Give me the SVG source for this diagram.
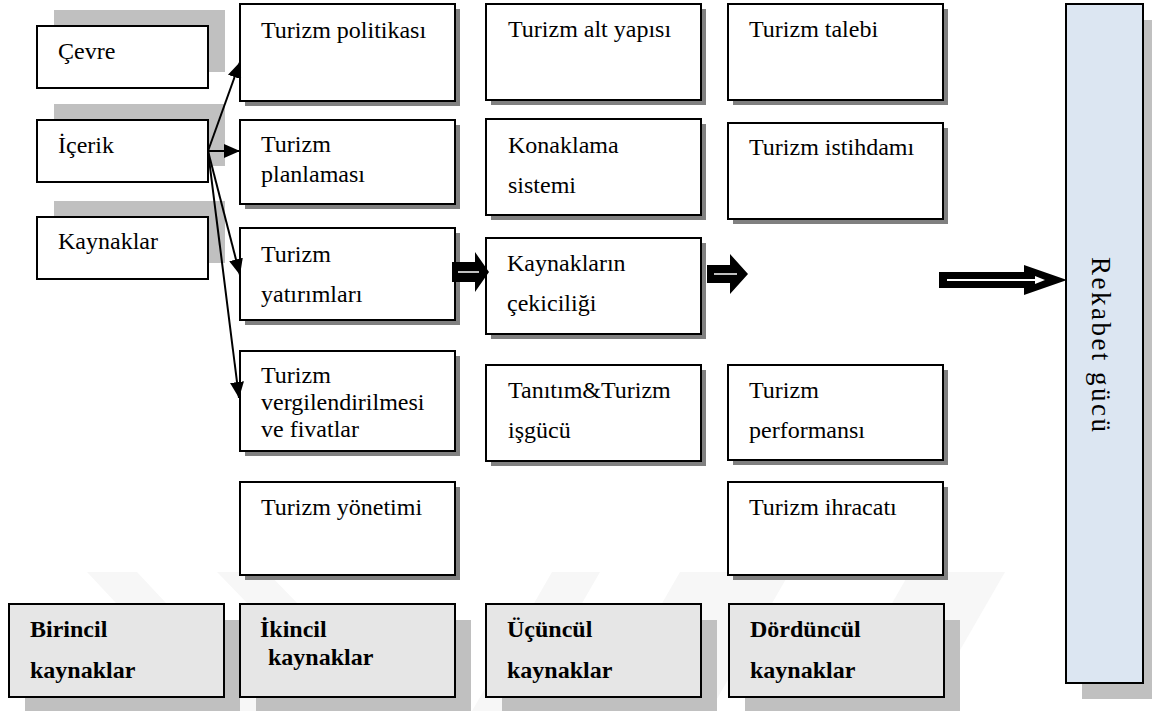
<svg xmlns="http://www.w3.org/2000/svg" width="1152" height="711" viewBox="0 0 1152 711">
<defs>
<style>
.box{fill:#fff;stroke:#000;stroke-width:2}
.gbox{fill:#e6e6e6;stroke:#000;stroke-width:2}
.sh{fill:#808080}
.lsh{fill:#c0c0c0}
.t{font-family:"Liberation Serif","Times New Roman",serif;font-size:24px;fill:#000}
.b{font-weight:bold}
.ln{stroke:#000;stroke-width:2;fill:none}
.wm{fill:#f7f7f7}
</style>
<marker id="ah" markerUnits="userSpaceOnUse" markerWidth="16" markerHeight="14" refX="16" refY="7" orient="auto">
<path d="M0,0 L16,7 L0,14 z" fill="#000"/>
</marker>
</defs>
<rect width="1152" height="711" fill="#fff"/>
<g id="watermark">
<polygon class="wm" points="87,572 137,572 267,711 217,711"/>
<polygon class="wm" points="217,572 267,572 402,711 352,711"/>
<polygon class="wm" points="552,572 600,572 520,711 472,711"/>
<polygon class="wm" points="680,572 790,572 710,711 600,711"/>
<polygon class="wm" points="910,572 1005,572 925,711 830,711"/>
</g>
<g id="n-cevre"><rect class="lsh" x="54" y="10" width="171" height="62"/><rect class="box" x="37" y="26" width="171" height="62"/><text class="t" x="58" y="59">Çevre</text></g>
<g id="n-icerik"><rect class="lsh" x="54" y="104" width="171" height="62"/><rect class="box" x="37" y="120" width="171" height="62"/><text class="t" x="58" y="153">İçerik</text></g>
<g id="n-kaynaklar"><rect class="lsh" x="54" y="201" width="171" height="62"/><rect class="box" x="37" y="217" width="171" height="62"/><text class="t" x="58" y="249">Kaynaklar</text></g>

<g id="n-politika"><rect class="sh" x="245" y="9" width="215" height="97"/><rect class="box" x="240" y="4" width="215" height="97"/><text class="t" x="261" y="38">Turizm politikası</text></g>
<g id="n-planlama"><rect class="sh" x="245" y="125" width="215" height="84"/><rect class="box" x="240" y="120" width="215" height="84"/><text class="t" x="261" y="152">Turizm</text><text class="t" x="261" y="182">planlaması</text></g>
<g id="n-yatirim"><rect class="sh" x="245" y="233" width="215" height="92"/><rect class="box" x="240" y="228" width="215" height="92"/><text class="t" x="261" y="262">Turizm</text><text class="t" x="261" y="302">yatırımları</text></g>
<g id="n-vergi"><rect class="sh" x="245" y="356" width="215" height="100"/><rect class="box" x="240" y="351" width="215" height="100"/><text class="t" x="261" y="383">Turizm</text><text class="t" x="261" y="410">vergilendirilmesi</text><text class="t" x="261" y="437">ve fivatlar</text></g>
<g id="n-yonetim"><rect class="sh" x="245" y="487" width="215" height="93"/><rect class="box" x="240" y="482" width="215" height="93"/><text class="t" x="261" y="515">Turizm yönetimi</text></g>

<g id="n-altyapi"><rect class="sh" x="491" y="9" width="215" height="96"/><rect class="box" x="486" y="4" width="215" height="96"/><text class="t" x="508" y="37">Turizm alt yapısı</text></g>
<g id="n-konaklama"><rect class="sh" x="491" y="124" width="215" height="96"/><rect class="box" x="486" y="119" width="215" height="96"/><text class="t" x="508" y="153">Konaklama</text><text class="t" x="508" y="193">sistemi</text></g>
<g id="n-cekicilik"><rect class="sh" x="491" y="243" width="215" height="96"/><rect class="box" x="486" y="238" width="215" height="96"/><text class="t" x="507" y="271">Kaynakların</text><text class="t" x="507" y="311">çekiciliği</text></g>
<g id="n-tanitim"><rect class="sh" x="491" y="370" width="215" height="96"/><rect class="box" x="486" y="365" width="215" height="96"/><text class="t" x="508" y="398">Tanıtım&amp;Turizm</text><text class="t" x="508" y="438">işgücü</text></g>

<g id="n-talep"><rect class="sh" x="733" y="9" width="215" height="96"/><rect class="box" x="728" y="4" width="215" height="96"/><text class="t" x="749" y="37">Turizm talebi</text></g>
<g id="n-istihdam"><rect class="sh" x="733" y="128" width="215" height="96"/><rect class="box" x="728" y="123" width="215" height="96"/><text class="t" x="749" y="155">Turizm istihdamı</text></g>
<g id="n-performans"><rect class="sh" x="733" y="370" width="215" height="95"/><rect class="box" x="728" y="365" width="215" height="95"/><text class="t" x="749" y="398">Turizm</text><text class="t" x="749" y="438">performansı</text></g>
<g id="n-ihracat"><rect class="sh" x="733" y="487" width="215" height="93"/><rect class="box" x="728" y="482" width="215" height="93"/><text class="t" x="749" y="515">Turizm ihracatı</text></g>

<g id="n-birincil"><rect class="lsh" x="25" y="620" width="215" height="93"/><rect class="gbox" x="9" y="604" width="215" height="93"/><text class="t b" x="30" y="637">Birincil</text><text class="t b" x="30" y="678">kaynaklar</text></g>
<g id="n-ikincil"><rect class="lsh" x="256" y="620" width="215" height="93"/><rect class="gbox" x="240" y="604" width="215" height="93"/><text class="t b" x="260" y="637">İkincil</text><text class="t b" x="268" y="665">kaynaklar</text></g>
<g id="n-ucuncul"><rect class="lsh" x="502" y="620" width="215" height="93"/><rect class="gbox" x="486" y="604" width="215" height="93"/><text class="t b" x="507" y="637">Üçüncül</text><text class="t b" x="507" y="678">kaynaklar</text></g>
<g id="n-dorduncul"><rect class="lsh" x="745" y="620" width="215" height="93"/><rect class="gbox" x="729" y="604" width="215" height="93"/><text class="t b" x="750" y="637">Dördüncül</text><text class="t b" x="750" y="678">kaynaklar</text></g>

<g id="n-rekabet"><rect class="lsh" x="1082" y="20" width="77" height="679"/><rect x="1066" y="4" width="77" height="679" fill="#dce6f2" stroke="#000" stroke-width="2"/><text class="t" transform="translate(1092,257) rotate(90)" textLength="175" lengthAdjust="spacing" style="font-size:27px">Rekabet gücü</text></g>

<g id="connectors">
<line class="ln" x1="208" y1="151" x2="240" y2="62" marker-end="url(#ah)"/>
<line class="ln" x1="208" y1="151" x2="240" y2="151" marker-end="url(#ah)"/>
<line class="ln" x1="208" y1="151" x2="240" y2="275" marker-end="url(#ah)"/>
<line class="ln" x1="208" y1="151" x2="239" y2="398" marker-end="url(#ah)"/>
<polygon points="452,262 475,262 475,252 489,272 475,292 475,282 452,282" fill="#000"/>
<line x1="458" y1="272" x2="479" y2="272" stroke="#fff" stroke-width="1.5"/>
<polygon points="707,265 730,265 730,254 748,274 730,294 730,283 707,283" fill="#000"/>
<line x1="714" y1="274" x2="737" y2="274" stroke="#fff" stroke-width="1.5"/>
<polygon points="939,272 1024,272 1024,265 1067,280 1024,295 1024,288 939,288" fill="#000"/>
<polygon points="947,279 1035,279 1035,276 1045,280 1035,284 1035,281 947,281" fill="#fff"/>
</g>
</svg>
